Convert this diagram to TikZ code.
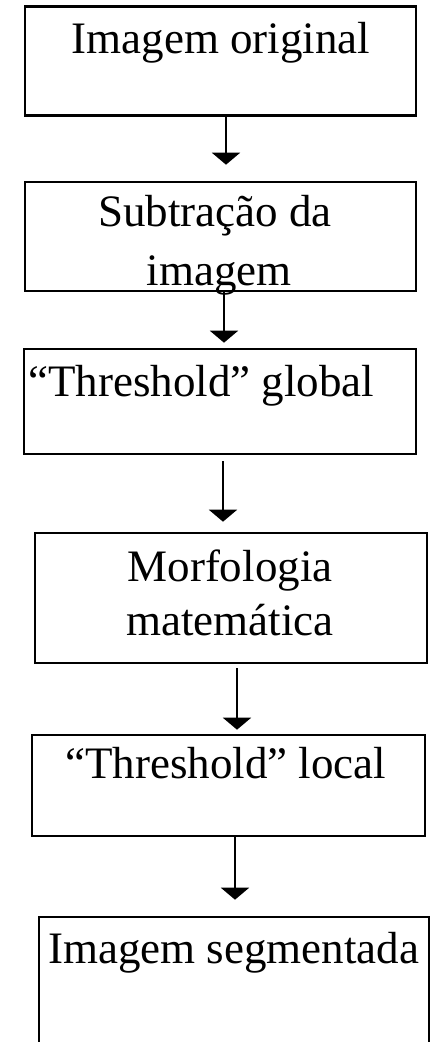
\documentclass[tikz,border=0pt]{standalone}
\usepackage{fontspec}
\setmainfont{Liberation Serif}
\usetikzlibrary{arrows.meta}
\begin{document}
\begin{tikzpicture}[x=1pt,y=-1pt,
  boxnode/.style={draw=black,line width=2.6pt,rectangle,inner sep=0pt,fill=none},
  lbl/.style={inner sep=0pt,font=\fontsize{45}{55}\selectfont},
  arr/.style={line width=2pt,-{Triangle[width=28pt,length=12pt]}}]
\useasboundingbox[fill=white] (0,0) rectangle (432,1042);
% boxes
\node[boxnode,minimum width=391pt,minimum height=109pt] (b1) at (220.5,61) {};
\node[boxnode,minimum width=391pt,minimum height=109pt] (b2) at (220.5,236.5) {};
\node[boxnode,minimum width=392pt,minimum height=105pt] (b3) at (220,401.5) {};
\node[boxnode,minimum width=392pt,minimum height=130pt] (b4) at (231,598) {};
\node[boxnode,minimum width=393pt,minimum height=101pt] (b5) at (228.5,785.5) {};
\node[boxnode,minimum width=390pt,minimum height=200pt] (b6) at (234,1017) {};
% labels
\node[lbl,anchor=base] (t1) at (221,53) {Imagem original};
\node[lbl,anchor=base] (t2a) at (215,226) {Subtração da};
\node[lbl,anchor=base] (t2b) at (219,285) {imagem};
\node[lbl,anchor=base west] (t3) at (28,396) {“Threshold” global};
\node[lbl,anchor=base] (t4a) at (230,581) {Morfologia};
\node[lbl,anchor=base] (t4b) at (230,635) {matemática};
\node[lbl,anchor=base west] (t5) at (65,778) {“Threshold” local};
\node[lbl,anchor=base west] (t6) at (48,963) {Imagem segmentada};
% arrows
\draw[arr] ([xshift=5.5pt]b1.south) -- ([xshift=5.5pt,yshift=16pt]b2.north);
\draw[arr] ([xshift=3.5pt]b2.south) -- ([xshift=4pt,yshift=5pt]b3.north);
\draw[arr] ([xshift=3pt,yshift=-6pt]b3.south) -- ([xshift=-8pt,yshift=10pt]b4.north);
\draw[arr] ([xshift=6pt,yshift=-4pt]b4.south) -- ([xshift=8.5pt,yshift=4pt]b5.north);
\draw[arr] ([xshift=6.5pt]b5.south) -- ([xshift=1pt,yshift=16pt]b6.north);
\end{tikzpicture}
\end{document}
